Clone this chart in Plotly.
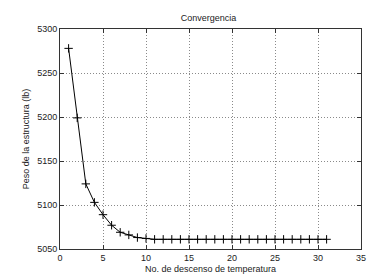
import plotly.graph_objects as go

iterations = list(range(1, 32))
weights = [5278, 5199, 5124, 5103, 5089, 5077, 5069, 5066, 5063, 5062,
           5061, 5061, 5061, 5061, 5061, 5061, 5061, 5061, 5061, 5061,
           5061, 5061, 5061, 5061, 5061, 5061, 5061, 5061, 5061, 5061, 5061]
x_ticks = [0, 5, 10, 15, 20, 25, 30, 35]
y_ticks = [5050, 5100, 5150, 5200, 5250, 5300]

fig = go.Figure()
fig.add_trace(go.Scatter(
    x=iterations, y=weights, mode="lines+markers",
    line=dict(color="black", width=1),
    marker=dict(symbol="cross-thin-open", size=6, color="black",
                line=dict(color="black", width=1)),
    showlegend=False,
))

font = dict(family="Liberation Sans, Arial, sans-serif", size=9, color="#222")
axis_common = dict(
    showline=True, linecolor="#333", linewidth=1, mirror="ticks",
    ticks="inside", ticklen=4, tickcolor="#333",
    showgrid=True, gridcolor="#8a8a8a", griddash="1px,2px", gridwidth=1,
    zeroline=False, tickfont=font,
)
fig.update_layout(
    width=375, height=276,
    margin=dict(l=52, r=22, t=21, b=30),
    paper_bgcolor="white", plot_bgcolor="white",
    title=dict(text="Convergencia", x=0.535, xanchor="center", y=0.965,
               yanchor="middle", font=font),
    font=font,
)
fig.update_xaxes(range=[0, 35], tickvals=x_ticks,
                 title=dict(text="No. de descenso de temperatura", font=font, standoff=3),
                 **axis_common)
fig.update_yaxes(range=[5050, 5300], tickvals=y_ticks,
                 title=dict(text="Peso de la estructura (lb)", font=font, standoff=6),
                 **axis_common)

fig.write_html("out.html")
